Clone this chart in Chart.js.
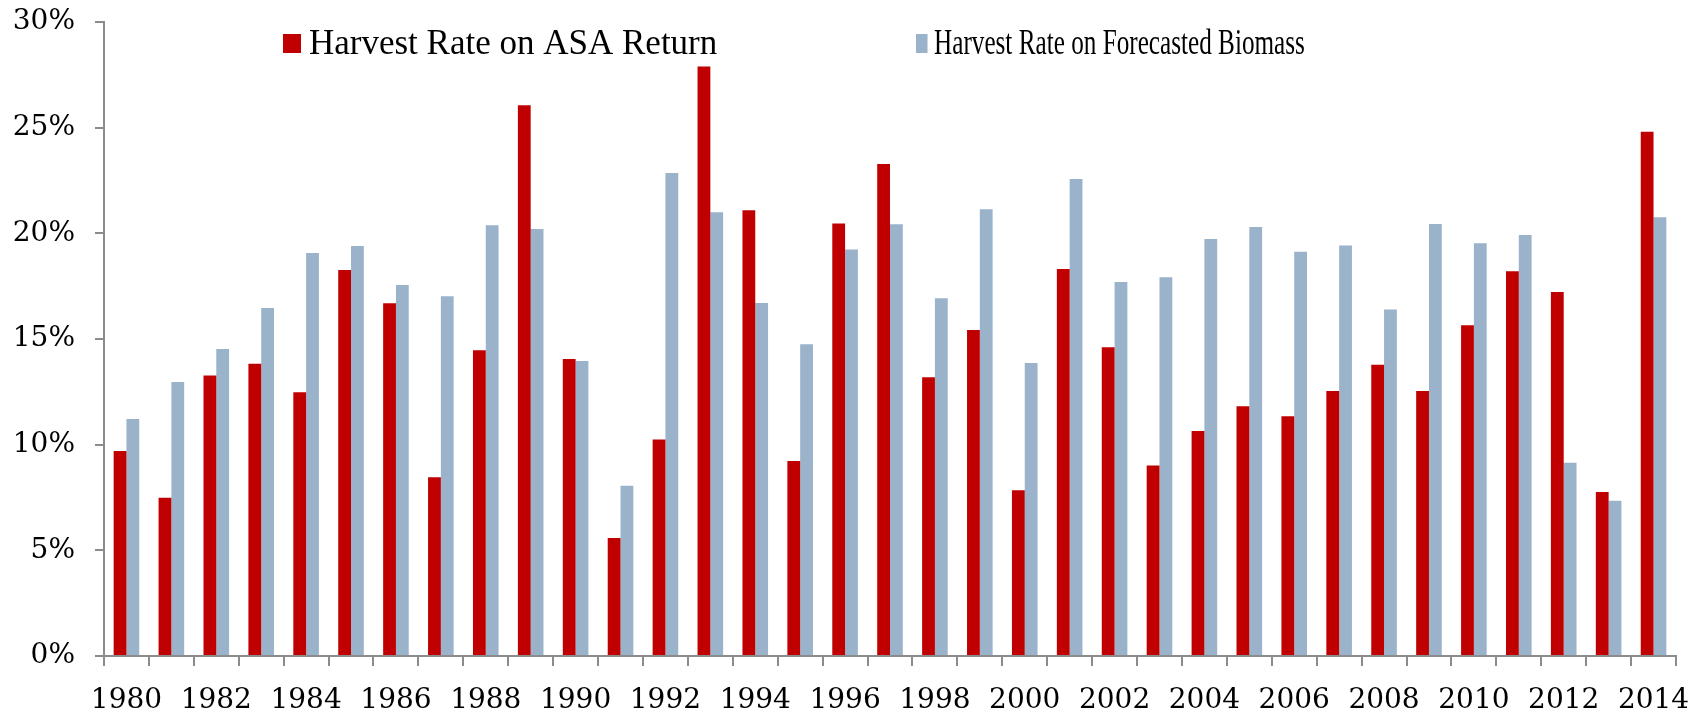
<!DOCTYPE html>
<html>
<head>
<meta charset="utf-8">
<script src="https://cdn.jsdelivr.net/npm/chart.js@4.4.1/dist/chart.umd.min.js"></script>
<style>
  html, body { margin: 0; padding: 0; background: #fff; }
  #wrap { width: 1700px; height: 717px; }
</style>
</head>
<body>
<div id="wrap"><canvas id="harvestChart" width="1700" height="717"></canvas></div>
<script>
// dados (percentagens)
const years = ['1980', '1981', '1982', '1983', '1984', '1985', '1986', '1987', '1988', '1989',
    '1990', '1991', '1992', '1993', '1994', '1995', '1996', '1997', '1998', '1999',
    '2000', '2001', '2002', '2003', '2004', '2005', '2006', '2007', '2008', '2009',
    '2010', '2011', '2012', '2013', '2014'];

const asaReturn = [9.70, 7.49, 13.27, 13.83, 12.48, 18.27, 16.69, 8.46, 14.47, 26.06,
    14.05, 5.58, 10.25, 27.90, 21.09, 9.23, 20.47, 23.28, 13.19, 15.43,
    7.84, 18.31, 14.61, 9.01, 10.65, 11.82, 11.34, 12.54, 13.78, 12.54,
    15.65, 18.20, 17.22, 7.76, 24.81];

const forecastBiomass = [11.21, 12.97, 14.53, 16.47, 19.07, 19.40, 17.56, 17.02, 20.38, 20.21,
    13.96, 8.06, 22.86, 21.00, 16.70, 14.75, 19.24, 20.43, 16.93, 21.14,
    13.86, 22.57, 17.70, 17.92, 19.73, 20.30, 19.13, 19.42, 16.39, 20.44,
    19.53, 19.92, 9.15, 7.35, 20.76];

const yTicks = [0, 5, 10, 15, 20, 25, 30];

const axisGray = '#8c8c8c';
const tickFont = { family: 'DejaVu Serif', size: 28 };

// legenda desenhada dentro da área do gráfico (como no original)
const insideLegend = {
    id: 'insideLegend',
    afterDraw(chart) {
        const ctx = chart.ctx;
        const items = [
            { x: 283, box: 18, gap: 8, squeeze: 1 },
            { x: 916, box: 16, gap: 9, squeeze: 0.72 }
        ];
        ctx.save();
        ctx.font = '35px "Liberation Serif"';
        ctx.textBaseline = 'alphabetic';
        chart.data.datasets.forEach((ds, i) => {
            const it = items[i];
            ctx.save();
            ctx.translate(it.x, 0);
            ctx.scale(it.squeeze, 1);
            ctx.fillStyle = ds.backgroundColor;
            ctx.fillRect(0, 34, it.box, 19);
            ctx.fillStyle = '#000';
            ctx.fillText(ds.label, it.box + it.gap, 54);
            ctx.restore();
        });
        ctx.restore();
    }
};

new Chart(document.getElementById('harvestChart'), {
    type: 'bar',
    data: {
        labels: years,
        datasets: [
            {
                label: 'Harvest Rate on ASA Return',
                data: asaReturn,
                backgroundColor: '#c00000',
                categoryPercentage: 0.57,
                barPercentage: 1.0
            },
            {
                label: 'Harvest Rate on Forecasted Biomass',
                data: forecastBiomass,
                backgroundColor: '#9ab3ca',
                categoryPercentage: 0.57,
                barPercentage: 1.0
            }
        ]
    },
    options: {
        responsive: false,
        animation: false,
        layout: { padding: { left: 0, right: 24, top: 22, bottom: 0 } },
        plugins: {
            legend: { display: false },
            tooltip: { enabled: false }
        },
        scales: {
            x: {
                offset: true,
                grid: {
                    offset: true,
                    drawOnChartArea: false,
                    drawTicks: true,
                    tickLength: 10,
                    tickColor: axisGray,
                    lineWidth: 2
                },
                border: { color: axisGray, width: 2 },
                ticks: {
                    autoSkip: false,
                    maxRotation: 0,
                    color: '#000',
                    font: tickFont,
                    padding: 18,
                    callback: function (v, i) { return i % 2 === 0 ? years[i] : ''; }
                },
                afterFit(scale) {
                    scale.height = 61;
                    scale.paddingLeft = 0;
                    scale.paddingRight = 0;
                }
            },
            y: {
                min: 0,
                max: 30,
                afterBuildTicks(scale) { scale.ticks = yTicks.map(v => ({ value: v })); },
                grid: {
                    drawOnChartArea: false,
                    drawTicks: true,
                    tickLength: 9,
                    tickColor: axisGray,
                    lineWidth: 2
                },
                border: { color: axisGray, width: 2 },
                ticks: {
                    color: '#000',
                    font: tickFont,
                    padding: 20,
                    callback: v => v + '%'
                },
                afterFit(scale) {
                    scale.width = 104;
                    scale.paddingTop = 0;
                    scale.paddingBottom = 0;
                }
            }
        }
    },
    plugins: [insideLegend]
});
</script>
</body>
</html>
